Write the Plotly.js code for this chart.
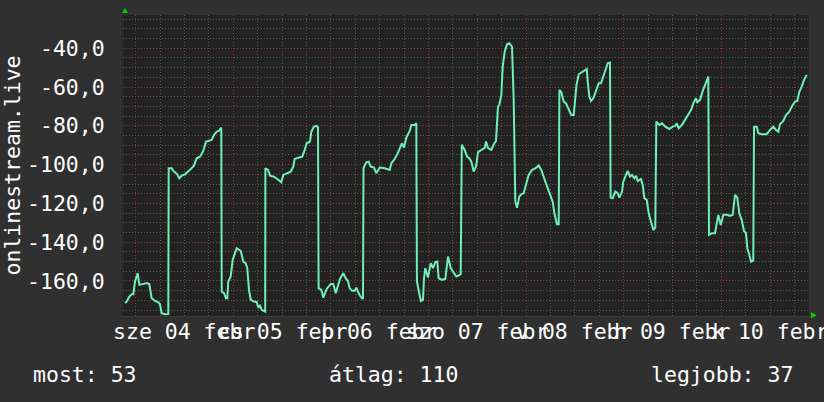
<!DOCTYPE html>
<html>
<head>
<meta charset="utf-8">
<script src="https://cdn.plot.ly/plotly-3.0.1.min.js"></script>
<style>
html,body{margin:0;padding:0;background:#303030;}
#chart{width:824px;height:402px;}
</style>
</head>
<body>
<div id="chart"></div>
<script>
// hours since 2015-02-04 00:00
const hours = [
 -2.63,-2.21,-1.57,-0.98,-0.59,-0.17,0.49,0.89,2.70,3.34,3.93,4.75,5.56,5.97,6.39,7.20,8.02,
 8.11,8.85,9.42,10.23,10.72,11.31,12.12,13.35,14.33,15.00,15.81,16.62,17.29,17.85,18.69,19.25,19.92,20.48,20.90,21.05,
 21.15,21.71,22.20,22.52,22.77,23.36,23.85,24.83,25.82,26.46,27.05,27.44,27.86,28.28,29.09,29.75,30.15,30.56,30.98,31.55,31.84,
 31.89,32.53,33.02,34.00,34.82,35.80,36.29,37.28,38.11,38.75,39.10,39.91,40.96,41.55,42.05,42.86,43.18,43.84,44.51,44.83,
 44.97,45.64,46.13,46.96,47.95,48.59,49.18,50.23,51.04,51.63,52.20,52.61,53.18,53.85,54.24,54.83,55.47,55.89,
 56.01,56.70,57.29,57.78,58.59,59.16,60.00,61.23,62.46,62.85,63.68,64.32,64.91,65.48,65.97,66.54,67.37,67.77,68.60,69.00,
 69.15,69.60,70.10,70.64,70.89,71.21,71.87,72.54,73.10,73.67,74.16,74.50,75.31,76.13,76.79,77.45,78.27,78.83,79.42,79.91,
 80.18,80.90,81.46,82.03,82.52,83.11,83.68,84.17,84.98,85.81,86.13,86.63,87.44,88.03,88.59,89.08,89.40,89.90,90.24,90.73,91.30,91.86,92.53,92.94,93.34,93.76,94.32,94.81,95.40,95.79,96.63,97.44,98.25,99.09,99.73,100.57,101.38,101.94,102.53,103.02,103.59,104.01,
 104.18,104.65,105.24,105.80,106.30,107.11,107.70,108.09,108.39,108.93,109.74,110.31,110.90,111.15,111.54,111.95,112.52,113.18,113.85,114.41,114.98,115.64,116.06,116.62,
 116.77,117.29,117.93,118.52,118.91,119.58,119.89,120.56,120.97,121.54,122.03,122.60,123.02,123.44,124.25,124.66,125.06,125.65,126.14,126.70,127.27,127.76,
 128.01,128.74,129.41,130.22,131.20,132.04,132.68,133.02,133.51,134.32,134.89,135.73,136.54,137.11,137.77,138.09,138.76,139.42,139.99,140.55,140.80,
 140.97,141.63,142.44,142.86,143.25,143.84,144.48,145.32,146.13,146.79,147.36,147.92,148.41,149.00,149.57,150.06,150.38,150.87,151.29,151.85,
 152.03,152.69,153.09,153.92,155.15,155.96,156.77,157.44,158.00,158.42,159.23,159.90,160.71,161.54,162.11,162.68,163.17,163.76,164.32,164.99
];
const rank = [
 -171.4,-170.6,-168.0,-166.8,-166.8,-160.3,-156.0,-162.0,-161.1,-161.6,-168.9,-170.3,-171.0,-172.0,-176.6,-177.1,-177.0,
 -101.9,-101.9,-103.6,-105.0,-107.0,-105.7,-105.0,-102.7,-100.5,-96.7,-95.9,-92.9,-88.1,-87.8,-87.3,-84.7,-83.0,-82.6,-80.9,-80.9,
 -165.5,-166.3,-168.9,-169.0,-160.3,-157.7,-149.1,-143.1,-144.5,-150.0,-150.8,-153.4,-164.6,-169.7,-170.6,-170.9,-173.7,-172.7,-174.9,-175.8,-175.8,
 -101.9,-102.7,-105.7,-106.2,-107.4,-109.1,-105.3,-104.4,-103.6,-101.0,-97.1,-96.4,-95.9,-92.4,-89.0,-88.1,-83.0,-80.4,-80.0,-80.9,
 -163.7,-164.6,-168.6,-164.1,-161.6,-161.6,-166.3,-158.9,-156.0,-158.6,-160.0,-163.7,-165.1,-165.1,-163.4,-166.3,-168.6,-169.2,
 -101.9,-98.8,-98.5,-101.0,-101.5,-104.4,-101.5,-101.9,-102.7,-99.3,-97.1,-94.6,-91.5,-89.0,-91.2,-86.1,-82.6,-79.5,-79.5,-78.7,
 -160.3,-165.5,-170.3,-169.7,-158.6,-153.4,-158.2,-150.8,-153.4,-150.3,-150.0,-158.6,-159.4,-158.9,-147.4,-153.4,-156.0,-157.7,-157.1,-156.5,
 -89.8,-92.4,-95.9,-96.7,-98.5,-103.6,-101.0,-93.6,-92.4,-91.5,-88.1,-91.5,-92.4,-89.5,-87.8,-70.1,-69.2,-64.1,-49.5,-41.8,-37.9,-37.4,-39.2,-66.6,-119.1,-122.2,-116.5,-115.3,-114.7,-111.3,-105.3,-102.7,-101.9,-100.5,-102.7,-107.9,-113.0,-115.6,-119.1,-125.9,-130.7,-130.7,
 -61.5,-62.7,-67.5,-68.4,-70.6,-74.4,-74.4,-64.1,-58.9,-53.4,-52.1,-51.2,-50.7,-57.2,-64.9,-67.2,-65.8,-62.0,-58.0,-58.0,-54.6,-50.7,-47.7,-47.4,
 -117.0,-117.3,-113.9,-114.7,-117.0,-113.9,-108.8,-105.3,-103.2,-106.2,-105.3,-107.0,-105.7,-108.4,-107.4,-110.5,-117.3,-118.2,-125.1,-129.4,-133.7,-132.5,
 -77.8,-79.5,-78.7,-80.4,-81.6,-80.4,-80.0,-78.7,-81.2,-79.5,-77.5,-74.0,-71.8,-68.4,-65.8,-67.8,-66.6,-62.0,-58.9,-55.2,-54.6,
 -136.2,-135.4,-135.4,-131.1,-125.9,-131.1,-125.9,-125.9,-126.4,-125.9,-115.6,-117.0,-125.1,-128.5,-134.2,-135.4,-143.1,-146.5,-150.0,-149.6,
 -80.4,-80.4,-83.8,-84.3,-84.3,-82.1,-80.4,-82.1,-83.0,-79.2,-77.5,-74.4,-72.7,-69.2,-67.5,-67.2,-62.4,-59.8,-56.3,-53.7
];
const dayLabelHours = [12, 36, 60, 84, 108, 132, 156];
const dayLabels = ["sze 04 febr", "cs 05 febr", "p 06 febr", "szo 07 febr", "v 08 febr", "h 09 febr", "k 10 febr"];
const yTickVals = [-160, -140, -120, -100, -80, -60, -40];
const yTickText = ["-160,0", "-140,0", "-120,0", "-100,0", "-80,0", "-60,0", "-40,0"];
const yTitle = "onlinestream.live";
const legendTexts = ["most: 53", "átlag: 110", "legjobb: 37"];

const FONT = "DejaVu Sans Mono, monospace";
const FS = 21.5;
const L = 123, R = 809, T = 15, B = 316;
const PW = R - L, PH = B - T;
function px(x, y) { return [((x - L) / PW).toFixed(5), ((B - y) / PH).toFixed(5)]; }
function tri(pts) {
  return "M" + pts.map(p => px(p[0], p[1]).join(",")).join(" L") + " Z";
}

const trace = {
  x: hours, y: rank, type: "scatter", mode: "lines",
  line: { color: "#6ff0b6", width: 2 },
  hoverinfo: "skip", showlegend: false
};

const annotations = [];
dayLabelHours.forEach((h, i) => annotations.push({
  x: h, xref: "x", y: (B - 331) / PH, yref: "paper",
  text: dayLabels[i], showarrow: false, xanchor: "center", yanchor: "middle",
  font: { family: FONT, size: FS, color: "#ffffff" }
}));
annotations.push({
  x: (12 - L) / PW, xref: "paper", y: 0.5, yref: "paper", textangle: -90,
  text: yTitle, showarrow: false, xanchor: "center", yanchor: "middle",
  font: { family: FONT, size: FS, color: "#ffffff" }
});
const legendX = [31, 327, 649];
legendTexts.forEach((t, i) => annotations.push({
  x: (legendX[i] - L) / PW, xref: "paper", y: (B - 374) / PH, yref: "paper",
  text: t, showarrow: false, xanchor: "left", yanchor: "middle",
  font: { family: FONT, size: FS, color: "#ffffff" }
}));

const layout = {
  width: 824, height: 402,
  margin: { l: L, r: 824 - R, t: T, b: 402 - B, pad: 0 },
  paper_bgcolor: "#303030", plot_bgcolor: "#222222",
  showlegend: false,
  xaxis: {
    range: [-3.12, 165.55], tickmode: "linear", tick0: 0, dtick: 24,
    showticklabels: false, ticks: "", zeroline: false,
    showgrid: true, gridcolor: "#8a3b3b", gridwidth: 1, griddash: "1px,2px",
    minor: { tickmode: "linear", tick0: 0, dtick: 6, showgrid: true, gridcolor: "#5a5a5a", gridwidth: 1, griddash: "1px,2px", ticks: "" },
    showline: true, linecolor: "#3a3a3a", linewidth: 1, fixedrange: true
  },
  yaxis: {
    range: [-178.06, -22.83], tickmode: "array", tickvals: yTickVals, ticktext: yTickText,
    ticks: "", ticklabelstandoff: 12, zeroline: false,
    tickfont: { family: FONT, size: FS, color: "#ffffff" },
    showgrid: true, gridcolor: "#8a3b3b", gridwidth: 1, griddash: "1px,2px",
    minor: { tickmode: "linear", tick0: -40, dtick: 5, showgrid: true, gridcolor: "#5a5a5a", gridwidth: 1, griddash: "1px,2px", ticks: "" },
    showline: true, linecolor: "#2c2c2c", linewidth: 2, fixedrange: true
  },
  annotations: annotations,
  shapes: [
    { type: "path", xref: "paper", yref: "paper", path: tri([[122, 13], [128, 13], [125, 8]]), fillcolor: "#00cc00", line: { width: 0 } },
    { type: "path", xref: "paper", yref: "paper", path: tri([[811, 312], [811, 318.5], [816.5, 315.2]]), fillcolor: "#00cc00", line: { width: 0 } }
  ]
};

Plotly.newPlot("chart", [trace], layout, { staticPlot: true, displayModeBar: false });
</script>
</body>
</html>
